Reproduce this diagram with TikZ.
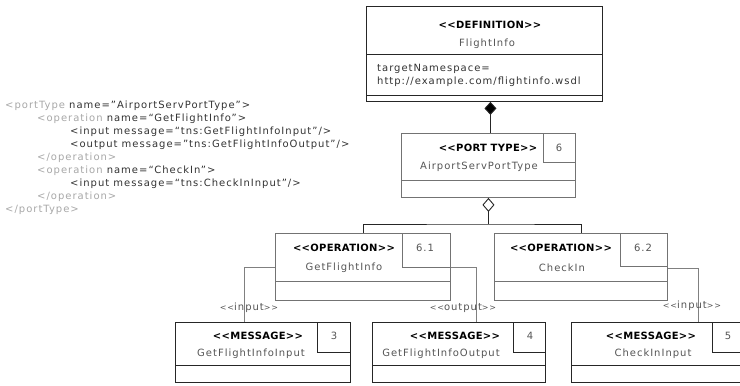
\documentclass[tikz,border=0pt]{standalone}
\usepackage{fontspec}
\setmainfont{DejaVu Sans}[LetterSpace=10, BoldFeatures={LetterSpace=3}]
\usetikzlibrary{arrows.meta}
\definecolor{namegray}{HTML}{555555}
\definecolor{taggray}{HTML}{A8A8A8}
\definecolor{codeink}{HTML}{333333}
% stereotype brackets kept as two separate signs
\newcommand{\stl}{<{}<}
\newcommand{\str}{>{}>}
% smaller brackets for the relation labels
\newcommand{\rstl}{{\fontsize{8}{10}\selectfont<{}<}}
\newcommand{\rstr}{{\fontsize{8}{10}\selectfont>{}>}}
\tikzset{
  every node/.style={font=\fontsize{10}{12}\selectfont, inner sep=0pt},
  umlbox/.style={draw=black!85, line width=0.9pt, anchor=north west, inner sep=0pt},
  lightbox/.style={umlbox, draw=black!55},
  stereo/.style={font=\bfseries\fontsize{10}{12}\selectfont, text=black},
  nm/.style={text=namegray},
  num/.style={text=namegray},
  compline/.style={line width=0.9pt, draw=black!85},
  lightline/.style={line width=0.9pt, draw=black!55},
  assoc/.style={line width=0.6pt, draw=black!50},
  rel/.style={text=namegray},
  codeline/.style={anchor=west, text=codeink},
}
\begin{document}
\begin{tikzpicture}[x=1pt, y=-1pt]
\clip (0,0) rectangle (740,386);
\fill[white] (0,0) rectangle (740,386);

% ---- WSDL source ----
\node[codeline] (c1) at (5,106) {\textcolor{taggray}{<portType} name="AirportServPortType">};
\node[codeline] (c2) at (37,119) {\textcolor{taggray}{<operation} name=“GetFlightInfo”>};
\node[codeline] (c3) at (70,132) {<input message=“tns:GetFlightInfoInput”/>};
\node[codeline] (c4) at (70,145) {<output message="tns:GetFlightInfoOutput"/>};
\node[codeline] (c5) at (37,158) {\textcolor{taggray}{</operation>}};
\node[codeline] (c6) at (37,171) {\textcolor{taggray}{<operation} name=“CheckIn”>};
\node[codeline] (c7) at (70,184) {<input message=“tns:CheckInInput”/>};
\node[codeline] (c8) at (37,197) {\textcolor{taggray}{</operation>}};
\node[codeline] (c9) at (5,210) {\textcolor{taggray}{</portType>}};

% ---- definitions element ----
\node[umlbox, minimum width=236pt, minimum height=95pt] (def) at (366,6) {};
\draw[compline] (366,54) -- (602,54);
\draw[compline] (366,95) -- (602,95);
\node[stereo] (defst) at (490,25) {\stl DEFINITION\str};
\node[nm] (defnm) at (487,44) {FlightInfo};
\node[anchor=west, text=codeink] (defa1) at (377,69) {targetNamespace=};
\node[anchor=west, text=codeink] (defa2) at (377,82) {http://example.com/flightinfo.wsdl};

% ---- port type ----
\node[lightbox, minimum width=174pt, minimum height=64pt] (pt) at (401,133) {};
\node[lightbox, minimum width=32pt, minimum height=29pt] (ptn) at (543,133) {};
\draw[lightline] (401,180) -- (575,180);
\node[stereo] (ptst) at (488,148) {\stl PORT TYPE\str};
\node[nm] (ptnm) at (479,167) {AirportServPortType};
\node[num] (ptno) at (559,148) {6};

% ---- operations ----
\node[lightbox, minimum width=175pt, minimum height=67pt] (op1) at (275,233) {};
\node[lightbox, minimum width=48pt, minimum height=34pt] (op1n) at (402,233) {};
\draw[lightline] (275,281) -- (450,281);
\node[stereo] (op1st) at (344,248) {\stl OPERATION\str};
\node[nm] (op1nm) at (344,268) {GetFlightInfo};
\node[num] (op1no) at (425,248) {6.1};

\node[lightbox, minimum width=173pt, minimum height=67pt] (op2) at (494,233) {};
\node[lightbox, minimum width=47pt, minimum height=33pt] (op2n) at (620,233) {};
\draw[lightline] (494,281) -- (667,281);
\node[stereo] (op2st) at (561,248) {\stl OPERATION\str};
\node[nm] (op2nm) at (562,268) {CheckIn};
\node[num] (op2no) at (643,248) {6.2};

% ---- messages ----
\node[umlbox, minimum width=175pt, minimum height=60pt] (m1) at (175,322) {};
\node[umlbox, minimum width=33pt, minimum height=30pt] (m1n) at (317,322) {};
\draw[compline] (175,365) -- (350,365);
\node[stereo] (m1st) at (258,336) {\stl MESSAGE\str};
\node[nm] (m1nm) at (251,354) {GetFlightInfoInput};
\node[num] (m1no) at (334,336) {3};

\node[umlbox, minimum width=173pt, minimum height=60pt] (m2) at (372,322) {};
\node[umlbox, minimum width=32pt, minimum height=30pt] (m2n) at (513,322) {};
\draw[compline] (372,365) -- (545,365);
\node[stereo] (m2st) at (455,336) {\stl MESSAGE\str};
\node[nm] (m2nm) at (441,354) {GetFlightInfoOutput};
\node[num] (m2no) at (530,336) {4};

\node[umlbox, minimum width=175pt, minimum height=60pt] (m3) at (571,322) {};
\node[umlbox, minimum width=34pt, minimum height=30pt] (m3n) at (712,322) {};
\draw[compline] (571,365) -- (746,365);
\node[stereo] (m3st) at (651,336) {\stl MESSAGE\str};
\node[nm] (m3nm) at (653,354) {CheckInInput};
\node[num] (m3no) at (728,336) {5};

% ---- composition / aggregation ----
\draw[compline, {Diamond[fill=black, length=13pt, width=12pt]}-] ([xshift=6pt]def.south) -- ([xshift=2pt]pt.north);
\coordinate (bar) at (0,224);
\draw[lightline, draw=black!85, {Diamond[open, fill=white, length=14pt, width=12pt]}-] (pt.south) -- (pt.south |- bar);
\draw[compline] (op1.north) |- (pt.south |- bar) -| (op2.north);

% ---- message references ----
\draw[assoc] ([yshift=-34pt]op1.north west) -| ([xshift=-18.5pt]m1.north);
\draw[assoc] ([yshift=-34pt]op1.north east) -| ([xshift=17.5pt]m2.north);
\draw[assoc] ([yshift=-35pt]op2.north east) -| ([xshift=39.5pt]m3.north);
\node[rel] (r1) at (249,308) {\rstl input\rstr};
\node[rel] (r2) at (463,308) {\rstl output\rstr};
\node[rel] (r3) at (692,306) {\rstl input\rstr};
\end{tikzpicture}
\end{document}
